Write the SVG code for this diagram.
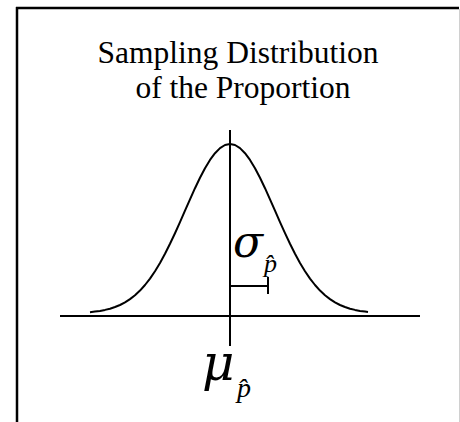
<svg xmlns="http://www.w3.org/2000/svg" width="460" height="422" viewBox="0 0 460 422">
<style>
.ln{stroke:#000;stroke-width:2;fill:none}
.t{font-family:"Liberation Serif","Times New Roman",serif;fill:#000}
.it{font-family:"Liberation Serif","Times New Roman",serif;font-style:italic;fill:#000}
.gr{font-family:"DejaVu Serif",serif;font-style:italic;fill:#000}
</style>
<rect width="460" height="422" fill="#fff"/>
<g id="frame">
<line x1="17" y1="7" x2="17" y2="422" stroke="#000" stroke-width="2.5"/>
<line x1="16" y1="8" x2="459" y2="8" stroke="#000" stroke-width="2.5"/>
<line x1="459.5" y1="9" x2="459.5" y2="422" stroke="#d0d0d0" stroke-width="1"/>
</g>
<g id="title">
<text class="t" x="238" y="63" font-size="31.5" text-anchor="middle">Sampling Distribution</text>
<text class="t" x="243" y="98" font-size="31.5" text-anchor="middle">of the Proportion</text>
</g>
<g id="curve">
<polyline class="ln" stroke-linejoin="round" points="90,312.2 95,311.6 100,310.9 105,309.9 110,308.7 115,307.0 120,305.0 125,302.4 130,299.1 135,295.2 140,290.6 145,285.0 150,278.6 155,271.2 160,263.0 165,253.8 170,243.8 175,233.2 180,222.1 185,210.7 190,199.3 195,188.2 200,177.8 205,168.2 210,159.9 215,153.2 220,148.1 225,145.0 230,144 235,145.0 240,148.1 245,153.2 250,159.9 255,168.2 260,177.8 265,188.2 270,199.3 275,210.7 280,222.1 285,233.2 290,243.8 295,253.8 300,263.0 305,271.2 310,278.6 315,285.0 320,290.6 325,295.2 330,299.1 335,302.4 340,305.0 345,307.0 350,308.7 355,309.9 360,310.9 365,311.6 368,312.0"/>
</g>
<g id="axes">
<line class="ln" x1="60" y1="316" x2="420" y2="316"/>
<line class="ln" x1="230" y1="130" x2="230" y2="346"/>
</g>
<g id="sigma">
<line class="ln" x1="230" y1="286" x2="268" y2="286"/>
<line class="ln" x1="268" y1="277" x2="268" y2="294"/>
<text class="gr" x="233" y="257" font-size="44">σ</text>
<text class="it" x="264" y="272" font-size="26">p̂</text>
</g>
<g id="mu">
<text class="gr" x="202" y="380" font-size="50">μ</text>
<text class="it" x="237" y="397" font-size="28">p̂</text>
</g>
</svg>
